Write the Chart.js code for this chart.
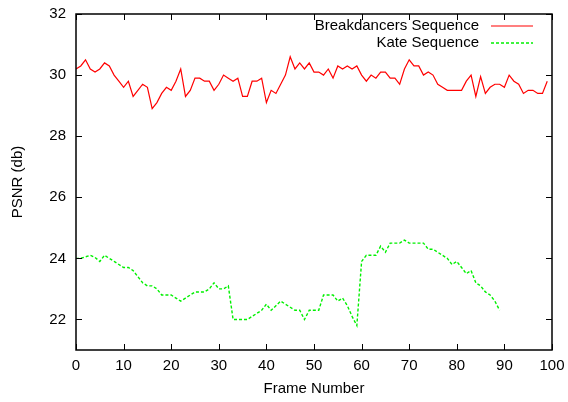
<!DOCTYPE html>
<html>
<head>
<meta charset="utf-8">
<script src="https://cdn.jsdelivr.net/npm/chart.js@4.4.1/dist/chart.umd.min.js"></script>
<style>
  html, body { margin: 0; padding: 0; background: #fff; }
  #wrap { width: 568px; height: 402px; }
</style>
</head>
<body>
<div id="wrap"><canvas id="psnrChart" width="568" height="402"></canvas></div>
<script>
// PSNR per frame
const breakdancers = [
    30.2, 30.3, 30.5, 30.2, 30.1, 30.2, 30.4, 30.3, 30.0, 29.8,
    29.6, 29.8, 29.3, 29.5, 29.7, 29.6, 28.9, 29.1, 29.4, 29.6,
    29.5, 29.8, 30.2, 29.3, 29.5, 29.9, 29.9, 29.8, 29.8, 29.5,
    29.7, 30.0, 29.9, 29.8, 29.9, 29.3, 29.3, 29.8, 29.8, 29.9,
    29.1, 29.5, 29.4, 29.7, 30.0, 30.6, 30.2, 30.4, 30.2, 30.4,
    30.1, 30.1, 30.0, 30.2, 29.9, 30.3, 30.2, 30.3, 30.2, 30.3,
    30.0, 29.8, 30.0, 29.9, 30.1, 30.1, 29.9, 29.9, 29.7, 30.2,
    30.5, 30.3, 30.3, 30.0, 30.1, 30.0, 29.7, 29.6, 29.5, 29.5,
    29.5, 29.5, 29.8, 30.0, 29.3, 29.95, 29.4, 29.6, 29.7, 29.7,
    29.6, 30.0, 29.8, 29.7, 29.4, 29.5, 29.5, 29.4, 29.4, 29.8
];
const kate = [
    24.0, 24.0, 24.05, 24.1, 24.03, 23.9, 24.1, 24.0, 23.9, 23.8,
    23.7, 23.7, 23.6, 23.4, 23.2, 23.1, 23.1, 23.0, 22.8, 22.8,
    22.8, 22.7, 22.6, 22.7, 22.8, 22.9, 22.9, 22.9, 23.0, 23.2,
    23.0, 23.0, 23.1, 22.0, 22.0, 22.0, 22.0, 22.1, 22.2, 22.3,
    22.5, 22.3, 22.45, 22.6, 22.5, 22.4, 22.3, 22.3, 22.0, 22.3,
    22.3, 22.3, 22.8, 22.8, 22.8, 22.6, 22.7, 22.45, 22.1, 21.8,
    23.9, 24.1, 24.1, 24.1, 24.4, 24.2, 24.5, 24.5, 24.5, 24.6,
    24.5, 24.5, 24.5, 24.5, 24.3, 24.3, 24.2, 24.1, 24.0, 23.8,
    23.9, 23.7, 23.5, 23.6, 23.2, 23.1, 22.9, 22.8, 22.6, 22.3
];
const seriesNames = ['Breakdancers Sequence', 'Kate Sequence'];
const seriesColors = ['#ff0000', '#00f000'];
const xTicks = [0, 10, 20, 30, 40, 50, 60, 70, 80, 90, 100];
const yTicks = [22, 24, 26, 28, 30, 32];

const toPoints = arr => arr.map((v, i) => ({ x: i, y: v }));
const font = { family: '"Liberation Sans", Arial, Helvetica, sans-serif', size: 15 };

// gnuplot style frame: box with inward ticks on all four sides
const framePlugin = {
    id: 'frame',
    afterDatasetsDraw(chart) {
        const { ctx, chartArea: a, scales } = chart;
        ctx.save();
        ctx.strokeStyle = '#000';
        ctx.lineWidth = 1.5;
        ctx.strokeRect(a.left, a.top, a.right - a.left, a.bottom - a.top);
        ctx.lineWidth = 1;
        ctx.beginPath();
        xTicks.forEach(t => {
            const px = Math.round(scales.x.getPixelForValue(t)) + 0.5;
            ctx.moveTo(px, a.bottom); ctx.lineTo(px, a.bottom - 6);
            ctx.moveTo(px, a.top); ctx.lineTo(px, a.top + 6);
        });
        yTicks.forEach(t => {
            const py = Math.round(scales.y.getPixelForValue(t)) + 0.5;
            ctx.moveTo(a.left, py); ctx.lineTo(a.left + 6, py);
            ctx.moveTo(a.right, py); ctx.lineTo(a.right - 6, py);
        });
        ctx.stroke();

        // key, text to the left of the sample line
        ctx.font = `${font.size}px ${font.family}`;
        ctx.textAlign = 'right';
        ctx.textBaseline = 'middle';
        chart.data.datasets.forEach((ds, i) => {
            const y = 26 + i * 17;
            ctx.fillStyle = '#000';
            ctx.fillText(ds.label, 479, y);
            ctx.strokeStyle = ds.borderColor;
            ctx.lineWidth = ds.borderWidth;
            ctx.setLineDash(ds.borderDash || []);
            ctx.beginPath();
            ctx.moveTo(491, y);
            ctx.lineTo(533, y);
            ctx.stroke();
        });
        ctx.restore();
    }
};

new Chart(document.getElementById('psnrChart').getContext('2d'), {
    type: 'line',
    data: {
        datasets: [
            {
                label: seriesNames[0],
                data: toPoints(breakdancers),
                borderColor: seriesColors[0],
                borderWidth: 1.2,
                pointRadius: 0,
                tension: 0
            },
            {
                label: seriesNames[1],
                data: toPoints(kate),
                borderColor: seriesColors[1],
                borderWidth: 1.4,
                borderDash: [3, 2],
                pointRadius: 0,
                tension: 0
            }
        ]
    },
    options: {
        responsive: false,
        animation: false,
        layout: { padding: { top: 14, right: 16, left: 0, bottom: 0 } },
        plugins: { legend: { display: false }, tooltip: { enabled: false } },
        scales: {
            x: {
                type: 'linear',
                min: 0,
                max: 100,
                afterBuildTicks: s => { s.ticks = xTicks.map(v => ({ value: v })); },
                afterFit: s => { s.height = 52; s.paddingLeft = 0; s.paddingRight = 0; },
                grid: { display: false, drawTicks: false },
                border: { display: false },
                ticks: { color: '#000', font: font, padding: 7, maxRotation: 0 },
                title: { display: true, text: 'Frame Number', color: '#000', font: font, padding: 4 }
            },
            y: {
                min: 21,
                max: 32,
                afterBuildTicks: s => { s.ticks = yTicks.map(v => ({ value: v })); },
                afterFit: s => { s.width = 76; s.paddingTop = 0; s.paddingBottom = 0; },
                grid: { display: false, drawTicks: false },
                border: { display: false },
                ticks: { color: '#000', font: font, padding: 10 },
                title: { display: true, text: 'PSNR (db)', color: '#000', font: font, padding: 9 }
            }
        }
    },
    plugins: [framePlugin]
});
</script>
</body>
</html>
